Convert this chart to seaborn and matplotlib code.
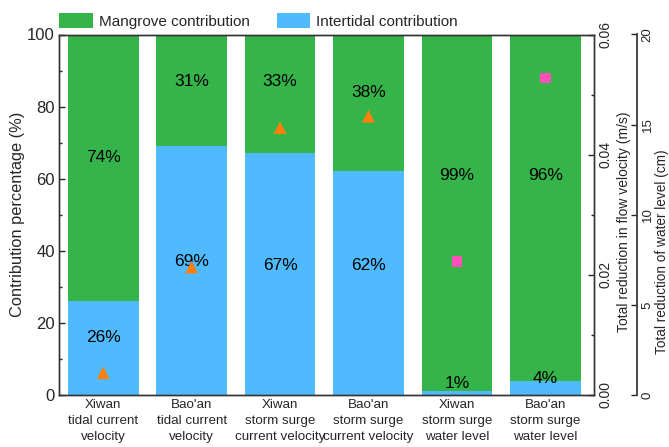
import numpy as np
import pandas as pd
import matplotlib
matplotlib.use("Agg")
import matplotlib.pyplot as plt
from matplotlib.patches import Patch
from matplotlib.ticker import MultipleLocator, FormatStrFormatter
import seaborn as sns

sns.set_theme(style="white")
plt.rcParams["font.family"] = ["Liberation Sans", "DejaVu Sans"]

# Scenarios (x categories)
categories = [
    "Xiwan\ntidal current\nvelocity",
    "Bao'an\ntidal current\nvelocity",
    "Xiwan\nstorm surge\ncurrent velocity",
    "Bao'an\nstorm surge\ncurrent velocity",
    "Xiwan\nstorm surge\nwater level",
    "Bao'an\nstorm surge\nwater level",
]
# Contribution shares (%)
intertidal = [26, 69, 67, 62, 1, 4]
mangrove = [74, 31, 33, 38, 99, 96]
# Total reduction in flow velocity (m/s), current-velocity scenarios only
velocity_reduction = [0.0037, 0.0213, 0.0445, 0.0464, np.nan, np.nan]
# Total reduction of water level (cm), water-level scenarios only
level_reduction = [np.nan, np.nan, np.nan, np.nan, 7.4, 17.6]

# Vertical placement of the percentage labels inside the bars
intertidal_label_y = [16, 37, 36, 36, 3.3, 4.7]
mangrove_label_y = [66, 87, 87, 84, 61, 61]

GREEN = "#35B44A"
BLUE = "#50BAFE"
ORANGE = "#FF7F0E"
PINK = "#FF4FB8"
SPINE = "#333333"

df = pd.DataFrame({
    "scenario": categories,
    "intertidal": intertidal,
    "total": np.array(intertidal) + np.array(mangrove),
})

fig = plt.figure(figsize=(6.69, 4.47), dpi=100)
ax = fig.add_axes([59 / 669, 1 - 395 / 447, 535 / 669, 360.5 / 447])

sns.barplot(data=df, x="scenario", y="total", color=GREEN, saturation=1,
            width=0.8, linewidth=0, ax=ax, zorder=1)
sns.barplot(data=df, x="scenario", y="intertidal", color=BLUE, saturation=1,
            width=0.8, linewidth=0, ax=ax, zorder=2)

for i in range(len(categories)):
    ax.text(i, intertidal_label_y[i], f"{intertidal[i]}%", ha="center", va="center",
            fontsize=12.5, color="black", zorder=3)
    ax.text(i, mangrove_label_y[i], f"{mangrove[i]}%", ha="center", va="center",
            fontsize=12.5, color="black", zorder=3)

ax.set_ylim(0, 100)
ax.yaxis.set_major_locator(MultipleLocator(20))
ax.yaxis.set_minor_locator(MultipleLocator(10))
ax.set_xlabel("")
ax.set_ylabel("Contribution percentage (%)", fontsize=11.8)
ax.yaxis.label.set_va("center")
ax.yaxis.set_label_coords(-0.077, 0.5)
ax.tick_params(axis="y", which="major", direction="in", length=4, width=1,
               labelsize=12, left=True, pad=3)
ax.tick_params(axis="y", which="minor", direction="in", length=2.5, width=1, left=True)
ax.tick_params(axis="x", direction="in", length=4, width=1, bottom=True, pad=3)
for sp in ax.spines.values():
    sp.set_color(SPINE)
    sp.set_linewidth(1)

# Secondary axis: flow velocity reduction
ax2 = ax.twinx()
sns.scatterplot(x=np.arange(len(categories)), y=velocity_reduction, marker="^",
                s=85, color=ORANGE, edgecolor="none", ax=ax2, zorder=5)
ax2.set_ylim(0, 0.06)
ax2.yaxis.set_major_locator(MultipleLocator(0.02))
ax2.yaxis.set_minor_locator(MultipleLocator(0.01))
ax2.yaxis.set_major_formatter(FormatStrFormatter("%.2f"))
ax2.tick_params(axis="y", which="major", direction="in", length=4, width=1,
                labelsize=10, labelrotation=90, pad=3.5)
ax2.tick_params(axis="y", which="minor", direction="in", length=2.5, width=1)
for lab in ax2.get_yticklabels():
    lab.set_va("center")
ax2.set_ylabel("Total reduction in flow velocity (m/s)", fontsize=10)
ax2.yaxis.label.set_va("center")
ax2.yaxis.set_label_coords(1.056, 0.48)
for sp in ax2.spines.values():
    sp.set_color(SPINE)
    sp.set_linewidth(1)

# Tertiary axis: water level reduction
ax3 = ax.twinx()
ax3.spines["right"].set_position(("axes", 1.08))
for side in ("top", "bottom", "left"):
    ax3.spines[side].set_visible(False)
ax3.spines["right"].set_color(SPINE)
sns.scatterplot(x=np.arange(len(categories)), y=level_reduction, marker="s",
                s=55, color=PINK, edgecolor="none", ax=ax3, zorder=5)
ax3.set_ylim(0, 20)
ax3.yaxis.set_major_locator(MultipleLocator(5))
ax3.tick_params(axis="y", which="major", direction="in", length=4, width=1,
                labelsize=9.5, labelrotation=90, pad=3.5)
for lab in ax3.get_yticklabels():
    lab.set_va("center")
ax3.set_ylabel("Total reduction of water level (cm)", fontsize=9.8)
ax3.yaxis.label.set_va("center")
ax3.yaxis.set_label_coords(1.127, 0.397)

# Shared x axis: category labels and limits
ax.set_xticks(np.arange(len(categories)), labels=categories, fontsize=9.6,
              linespacing=1.45)
ax.set_xlim(-0.5, 5.55)

# Legend above the plot area
handles = [Patch(facecolor=GREEN, edgecolor="none", label="Mangrove contribution"),
           Patch(facecolor=BLUE, edgecolor="none", label="Intertidal contribution")]
fig.legend(handles=handles, loc="upper left",
           bbox_to_anchor=(50 / 669, 1 - 4 / 447),
           ncol=2, frameon=False, fontsize=11, handlelength=2.2,
           handleheight=1.1, handletextpad=0.4, columnspacing=1.75,
           borderaxespad=0.2)

fig.savefig("out.png", dpi=100)
